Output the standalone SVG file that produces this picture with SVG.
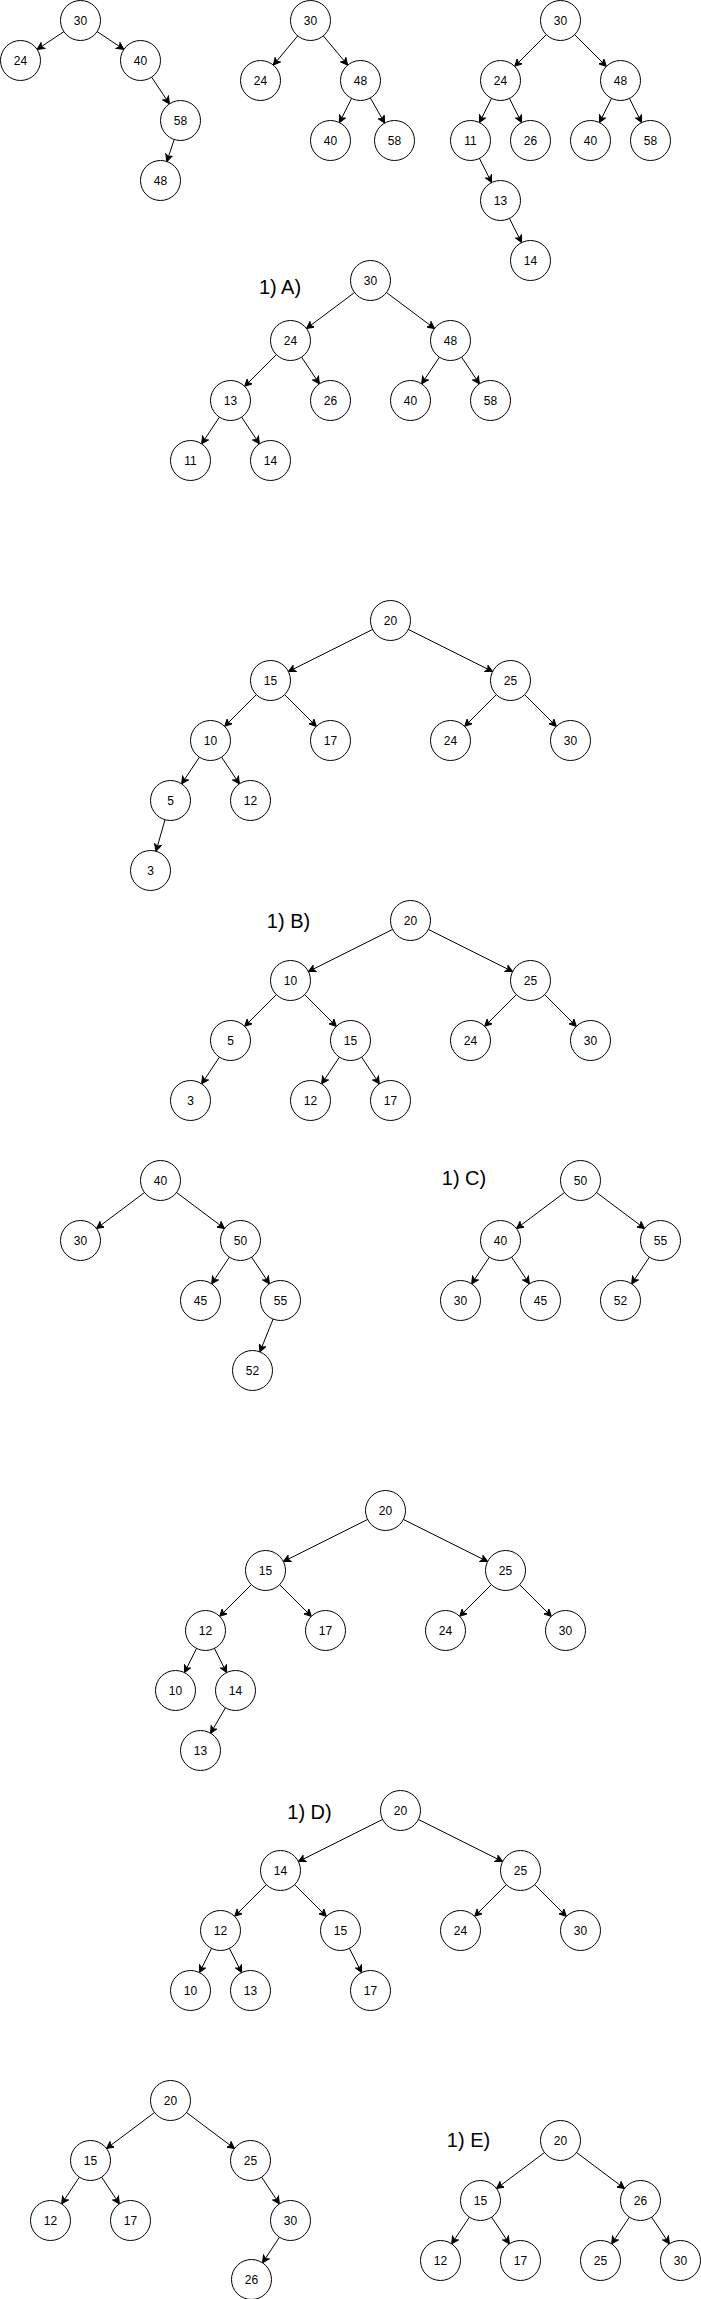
<svg xmlns="http://www.w3.org/2000/svg" width="701" height="2299" viewBox="0 0 701 2299">
<style>
.e{stroke:#000;stroke-width:1;fill:none;marker-end:url(#arr)}
.n circle{fill:#fff;stroke:#000;stroke-width:1}
.n text{font-family:"Liberation Sans",Arial,Helvetica,sans-serif;font-size:12px;text-anchor:middle;fill:#000}
.lbl{font-family:"Liberation Sans",Arial,Helvetica,sans-serif;font-size:20px;text-anchor:middle;fill:#000}
</style>
<defs>
<marker id="arr" markerUnits="userSpaceOnUse" viewBox="0 0 28 8" markerWidth="28" markerHeight="8" refX="27.5" refY="4" orient="auto">
<path d="M7.5,4 L0.5,0.5 L2.25,4 L0.5,7.5 Z" fill="#000" stroke="#000" stroke-width="1" stroke-linejoin="miter"/>
</marker>
</defs>
<rect width="701" height="2299" fill="#fff"/>
<g transform="translate(0.5,0.5)">
<g id="connectors">
<line class="e" x1="80" y1="20" x2="20" y2="60"/>
<line class="e" x1="80" y1="20" x2="140" y2="60"/>
<line class="e" x1="140" y1="60" x2="180" y2="120"/>
<line class="e" x1="180" y1="120" x2="160" y2="180"/>
<line class="e" x1="310" y1="20" x2="260" y2="80"/>
<line class="e" x1="310" y1="20" x2="360" y2="80"/>
<line class="e" x1="360" y1="80" x2="330" y2="140"/>
<line class="e" x1="360" y1="80" x2="394" y2="140"/>
<line class="e" x1="560" y1="20" x2="500" y2="80"/>
<line class="e" x1="560" y1="20" x2="620" y2="80"/>
<line class="e" x1="500" y1="80" x2="470" y2="140"/>
<line class="e" x1="500" y1="80" x2="530" y2="140"/>
<line class="e" x1="620" y1="80" x2="590" y2="140"/>
<line class="e" x1="620" y1="80" x2="650" y2="140"/>
<line class="e" x1="470" y1="140" x2="500" y2="200"/>
<line class="e" x1="500" y1="200" x2="530" y2="260"/>
<line class="e" x1="370" y1="280" x2="290" y2="340"/>
<line class="e" x1="370" y1="280" x2="450" y2="340"/>
<line class="e" x1="290" y1="340" x2="230" y2="400"/>
<line class="e" x1="290" y1="340" x2="330" y2="400"/>
<line class="e" x1="450" y1="340" x2="410" y2="400"/>
<line class="e" x1="450" y1="340" x2="490" y2="400"/>
<line class="e" x1="230" y1="400" x2="190" y2="460"/>
<line class="e" x1="230" y1="400" x2="270" y2="460"/>
<line class="e" x1="390" y1="620" x2="270" y2="680"/>
<line class="e" x1="390" y1="620" x2="510" y2="680"/>
<line class="e" x1="270" y1="680" x2="210" y2="740"/>
<line class="e" x1="270" y1="680" x2="330" y2="740"/>
<line class="e" x1="510" y1="680" x2="450" y2="740"/>
<line class="e" x1="510" y1="680" x2="570" y2="740"/>
<line class="e" x1="210" y1="740" x2="170" y2="800"/>
<line class="e" x1="210" y1="740" x2="250" y2="800"/>
<line class="e" x1="170" y1="800" x2="150" y2="870"/>
<line class="e" x1="410" y1="920" x2="290" y2="980"/>
<line class="e" x1="410" y1="920" x2="530" y2="980"/>
<line class="e" x1="290" y1="980" x2="230" y2="1040"/>
<line class="e" x1="290" y1="980" x2="350" y2="1040"/>
<line class="e" x1="530" y1="980" x2="470" y2="1040"/>
<line class="e" x1="530" y1="980" x2="590" y2="1040"/>
<line class="e" x1="230" y1="1040" x2="190" y2="1100"/>
<line class="e" x1="350" y1="1040" x2="310" y2="1100"/>
<line class="e" x1="350" y1="1040" x2="390" y2="1100"/>
<line class="e" x1="160" y1="1180" x2="80" y2="1240"/>
<line class="e" x1="160" y1="1180" x2="240" y2="1240"/>
<line class="e" x1="240" y1="1240" x2="200" y2="1300"/>
<line class="e" x1="240" y1="1240" x2="280" y2="1300"/>
<line class="e" x1="280" y1="1300" x2="252" y2="1370"/>
<line class="e" x1="580" y1="1180" x2="500" y2="1240"/>
<line class="e" x1="580" y1="1180" x2="660" y2="1240"/>
<line class="e" x1="500" y1="1240" x2="460" y2="1300"/>
<line class="e" x1="500" y1="1240" x2="540" y2="1300"/>
<line class="e" x1="660" y1="1240" x2="620" y2="1300"/>
<line class="e" x1="385" y1="1510" x2="265" y2="1570"/>
<line class="e" x1="385" y1="1510" x2="505" y2="1570"/>
<line class="e" x1="265" y1="1570" x2="205" y2="1630"/>
<line class="e" x1="265" y1="1570" x2="325" y2="1630"/>
<line class="e" x1="505" y1="1570" x2="445" y2="1630"/>
<line class="e" x1="505" y1="1570" x2="565" y2="1630"/>
<line class="e" x1="205" y1="1630" x2="175" y2="1690"/>
<line class="e" x1="205" y1="1630" x2="235" y2="1690"/>
<line class="e" x1="235" y1="1690" x2="200" y2="1750"/>
<line class="e" x1="400" y1="1810" x2="280" y2="1870"/>
<line class="e" x1="400" y1="1810" x2="520" y2="1870"/>
<line class="e" x1="280" y1="1870" x2="220" y2="1930"/>
<line class="e" x1="280" y1="1870" x2="340" y2="1930"/>
<line class="e" x1="520" y1="1870" x2="460" y2="1930"/>
<line class="e" x1="520" y1="1870" x2="580" y2="1930"/>
<line class="e" x1="220" y1="1930" x2="190" y2="1990"/>
<line class="e" x1="220" y1="1930" x2="250" y2="1990"/>
<line class="e" x1="340" y1="1930" x2="370" y2="1990"/>
<line class="e" x1="170" y1="2100" x2="90" y2="2160"/>
<line class="e" x1="170" y1="2100" x2="250" y2="2160"/>
<line class="e" x1="90" y1="2160" x2="50" y2="2220"/>
<line class="e" x1="90" y1="2160" x2="130" y2="2220"/>
<line class="e" x1="250" y1="2160" x2="290" y2="2220"/>
<line class="e" x1="290" y1="2220" x2="251" y2="2279"/>
<line class="e" x1="560" y1="2140" x2="480" y2="2200"/>
<line class="e" x1="560" y1="2140" x2="640" y2="2200"/>
<line class="e" x1="480" y1="2200" x2="440" y2="2260"/>
<line class="e" x1="480" y1="2200" x2="520" y2="2260"/>
<line class="e" x1="640" y1="2200" x2="600" y2="2260"/>
<line class="e" x1="640" y1="2200" x2="680" y2="2260"/>
</g>
<g id="t1-30" class="n"><circle cx="80" cy="20" r="20"/><text x="80" y="24">30</text></g>
<g id="t1-24" class="n"><circle cx="20" cy="60" r="20"/><text x="20" y="64">24</text></g>
<g id="t1-40" class="n"><circle cx="140" cy="60" r="20"/><text x="140" y="64">40</text></g>
<g id="t1-58" class="n"><circle cx="180" cy="120" r="20"/><text x="180" y="124">58</text></g>
<g id="t1-48" class="n"><circle cx="160" cy="180" r="20"/><text x="160" y="184">48</text></g>
<g id="t2-30" class="n"><circle cx="310" cy="20" r="20"/><text x="310" y="24">30</text></g>
<g id="t2-24" class="n"><circle cx="260" cy="80" r="20"/><text x="260" y="84">24</text></g>
<g id="t2-48" class="n"><circle cx="360" cy="80" r="20"/><text x="360" y="84">48</text></g>
<g id="t2-40" class="n"><circle cx="330" cy="140" r="20"/><text x="330" y="144">40</text></g>
<g id="t2-58" class="n"><circle cx="394" cy="140" r="20"/><text x="394" y="144">58</text></g>
<g id="t3-30" class="n"><circle cx="560" cy="20" r="20"/><text x="560" y="24">30</text></g>
<g id="t3-24" class="n"><circle cx="500" cy="80" r="20"/><text x="500" y="84">24</text></g>
<g id="t3-48" class="n"><circle cx="620" cy="80" r="20"/><text x="620" y="84">48</text></g>
<g id="t3-11" class="n"><circle cx="470" cy="140" r="20"/><text x="470" y="144">11</text></g>
<g id="t3-26" class="n"><circle cx="530" cy="140" r="20"/><text x="530" y="144">26</text></g>
<g id="t3-40" class="n"><circle cx="590" cy="140" r="20"/><text x="590" y="144">40</text></g>
<g id="t3-58" class="n"><circle cx="650" cy="140" r="20"/><text x="650" y="144">58</text></g>
<g id="t3-13" class="n"><circle cx="500" cy="200" r="20"/><text x="500" y="204">13</text></g>
<g id="t3-14" class="n"><circle cx="530" cy="260" r="20"/><text x="530" y="264">14</text></g>
<g id="a-30" class="n"><circle cx="370" cy="280" r="20"/><text x="370" y="284">30</text></g>
<g id="a-24" class="n"><circle cx="290" cy="340" r="20"/><text x="290" y="344">24</text></g>
<g id="a-48" class="n"><circle cx="450" cy="340" r="20"/><text x="450" y="344">48</text></g>
<g id="a-13" class="n"><circle cx="230" cy="400" r="20"/><text x="230" y="404">13</text></g>
<g id="a-26" class="n"><circle cx="330" cy="400" r="20"/><text x="330" y="404">26</text></g>
<g id="a-40" class="n"><circle cx="410" cy="400" r="20"/><text x="410" y="404">40</text></g>
<g id="a-58" class="n"><circle cx="490" cy="400" r="20"/><text x="490" y="404">58</text></g>
<g id="a-11" class="n"><circle cx="190" cy="460" r="20"/><text x="190" y="464">11</text></g>
<g id="a-14" class="n"><circle cx="270" cy="460" r="20"/><text x="270" y="464">14</text></g>
<g id="t5-20" class="n"><circle cx="390" cy="620" r="20"/><text x="390" y="624">20</text></g>
<g id="t5-15" class="n"><circle cx="270" cy="680" r="20"/><text x="270" y="684">15</text></g>
<g id="t5-25" class="n"><circle cx="510" cy="680" r="20"/><text x="510" y="684">25</text></g>
<g id="t5-10" class="n"><circle cx="210" cy="740" r="20"/><text x="210" y="744">10</text></g>
<g id="t5-17" class="n"><circle cx="330" cy="740" r="20"/><text x="330" y="744">17</text></g>
<g id="t5-24" class="n"><circle cx="450" cy="740" r="20"/><text x="450" y="744">24</text></g>
<g id="t5-30" class="n"><circle cx="570" cy="740" r="20"/><text x="570" y="744">30</text></g>
<g id="t5-5" class="n"><circle cx="170" cy="800" r="20"/><text x="170" y="804">5</text></g>
<g id="t5-12" class="n"><circle cx="250" cy="800" r="20"/><text x="250" y="804">12</text></g>
<g id="t5-3" class="n"><circle cx="150" cy="870" r="20"/><text x="150" y="874">3</text></g>
<g id="b-20" class="n"><circle cx="410" cy="920" r="20"/><text x="410" y="924">20</text></g>
<g id="b-10" class="n"><circle cx="290" cy="980" r="20"/><text x="290" y="984">10</text></g>
<g id="b-25" class="n"><circle cx="530" cy="980" r="20"/><text x="530" y="984">25</text></g>
<g id="b-5" class="n"><circle cx="230" cy="1040" r="20"/><text x="230" y="1044">5</text></g>
<g id="b-15" class="n"><circle cx="350" cy="1040" r="20"/><text x="350" y="1044">15</text></g>
<g id="b-24" class="n"><circle cx="470" cy="1040" r="20"/><text x="470" y="1044">24</text></g>
<g id="b-30" class="n"><circle cx="590" cy="1040" r="20"/><text x="590" y="1044">30</text></g>
<g id="b-3" class="n"><circle cx="190" cy="1100" r="20"/><text x="190" y="1104">3</text></g>
<g id="b-12" class="n"><circle cx="310" cy="1100" r="20"/><text x="310" y="1104">12</text></g>
<g id="b-17" class="n"><circle cx="390" cy="1100" r="20"/><text x="390" y="1104">17</text></g>
<g id="t7-40" class="n"><circle cx="160" cy="1180" r="20"/><text x="160" y="1184">40</text></g>
<g id="t7-30" class="n"><circle cx="80" cy="1240" r="20"/><text x="80" y="1244">30</text></g>
<g id="t7-50" class="n"><circle cx="240" cy="1240" r="20"/><text x="240" y="1244">50</text></g>
<g id="t7-45" class="n"><circle cx="200" cy="1300" r="20"/><text x="200" y="1304">45</text></g>
<g id="t7-55" class="n"><circle cx="280" cy="1300" r="20"/><text x="280" y="1304">55</text></g>
<g id="t7-52" class="n"><circle cx="252" cy="1370" r="20"/><text x="252" y="1374">52</text></g>
<g id="c-50" class="n"><circle cx="580" cy="1180" r="20"/><text x="580" y="1184">50</text></g>
<g id="c-40" class="n"><circle cx="500" cy="1240" r="20"/><text x="500" y="1244">40</text></g>
<g id="c-55" class="n"><circle cx="660" cy="1240" r="20"/><text x="660" y="1244">55</text></g>
<g id="c-30" class="n"><circle cx="460" cy="1300" r="20"/><text x="460" y="1304">30</text></g>
<g id="c-45" class="n"><circle cx="540" cy="1300" r="20"/><text x="540" y="1304">45</text></g>
<g id="c-52" class="n"><circle cx="620" cy="1300" r="20"/><text x="620" y="1304">52</text></g>
<g id="t9-20" class="n"><circle cx="385" cy="1510" r="20"/><text x="385" y="1514">20</text></g>
<g id="t9-15" class="n"><circle cx="265" cy="1570" r="20"/><text x="265" y="1574">15</text></g>
<g id="t9-25" class="n"><circle cx="505" cy="1570" r="20"/><text x="505" y="1574">25</text></g>
<g id="t9-12" class="n"><circle cx="205" cy="1630" r="20"/><text x="205" y="1634">12</text></g>
<g id="t9-17" class="n"><circle cx="325" cy="1630" r="20"/><text x="325" y="1634">17</text></g>
<g id="t9-24" class="n"><circle cx="445" cy="1630" r="20"/><text x="445" y="1634">24</text></g>
<g id="t9-30" class="n"><circle cx="565" cy="1630" r="20"/><text x="565" y="1634">30</text></g>
<g id="t9-10" class="n"><circle cx="175" cy="1690" r="20"/><text x="175" y="1694">10</text></g>
<g id="t9-14" class="n"><circle cx="235" cy="1690" r="20"/><text x="235" y="1694">14</text></g>
<g id="t9-13" class="n"><circle cx="200" cy="1750" r="20"/><text x="200" y="1754">13</text></g>
<g id="d-20" class="n"><circle cx="400" cy="1810" r="20"/><text x="400" y="1814">20</text></g>
<g id="d-14" class="n"><circle cx="280" cy="1870" r="20"/><text x="280" y="1874">14</text></g>
<g id="d-25" class="n"><circle cx="520" cy="1870" r="20"/><text x="520" y="1874">25</text></g>
<g id="d-12" class="n"><circle cx="220" cy="1930" r="20"/><text x="220" y="1934">12</text></g>
<g id="d-15" class="n"><circle cx="340" cy="1930" r="20"/><text x="340" y="1934">15</text></g>
<g id="d-24" class="n"><circle cx="460" cy="1930" r="20"/><text x="460" y="1934">24</text></g>
<g id="d-30" class="n"><circle cx="580" cy="1930" r="20"/><text x="580" y="1934">30</text></g>
<g id="d-10" class="n"><circle cx="190" cy="1990" r="20"/><text x="190" y="1994">10</text></g>
<g id="d-13" class="n"><circle cx="250" cy="1990" r="20"/><text x="250" y="1994">13</text></g>
<g id="d-17" class="n"><circle cx="370" cy="1990" r="20"/><text x="370" y="1994">17</text></g>
<g id="t11-20" class="n"><circle cx="170" cy="2100" r="20"/><text x="170" y="2104">20</text></g>
<g id="t11-15" class="n"><circle cx="90" cy="2160" r="20"/><text x="90" y="2164">15</text></g>
<g id="t11-25" class="n"><circle cx="250" cy="2160" r="20"/><text x="250" y="2164">25</text></g>
<g id="t11-12" class="n"><circle cx="50" cy="2220" r="20"/><text x="50" y="2224">12</text></g>
<g id="t11-17" class="n"><circle cx="130" cy="2220" r="20"/><text x="130" y="2224">17</text></g>
<g id="t11-30" class="n"><circle cx="290" cy="2220" r="20"/><text x="290" y="2224">30</text></g>
<g id="t11-26" class="n"><circle cx="251" cy="2279" r="20"/><text x="251" y="2283">26</text></g>
<g id="e-20" class="n"><circle cx="560" cy="2140" r="20"/><text x="560" y="2144">20</text></g>
<g id="e-15" class="n"><circle cx="480" cy="2200" r="20"/><text x="480" y="2204">15</text></g>
<g id="e-26" class="n"><circle cx="640" cy="2200" r="20"/><text x="640" y="2204">26</text></g>
<g id="e-12" class="n"><circle cx="440" cy="2260" r="20"/><text x="440" y="2264">12</text></g>
<g id="e-17" class="n"><circle cx="520" cy="2260" r="20"/><text x="520" y="2264">17</text></g>
<g id="e-25" class="n"><circle cx="600" cy="2260" r="20"/><text x="600" y="2264">25</text></g>
<g id="e-30" class="n"><circle cx="680" cy="2260" r="20"/><text x="680" y="2264">30</text></g>
</g>
<g id="labels">
<text class="lbl" x="280" y="294">1) A)</text>
<text class="lbl" x="288.5" y="928">1) B)</text>
<text class="lbl" x="464" y="1185">1) C)</text>
<text class="lbl" x="309.5" y="1819">1) D)</text>
<text class="lbl" x="468.5" y="2147">1) E)</text>
</g>
</svg>
